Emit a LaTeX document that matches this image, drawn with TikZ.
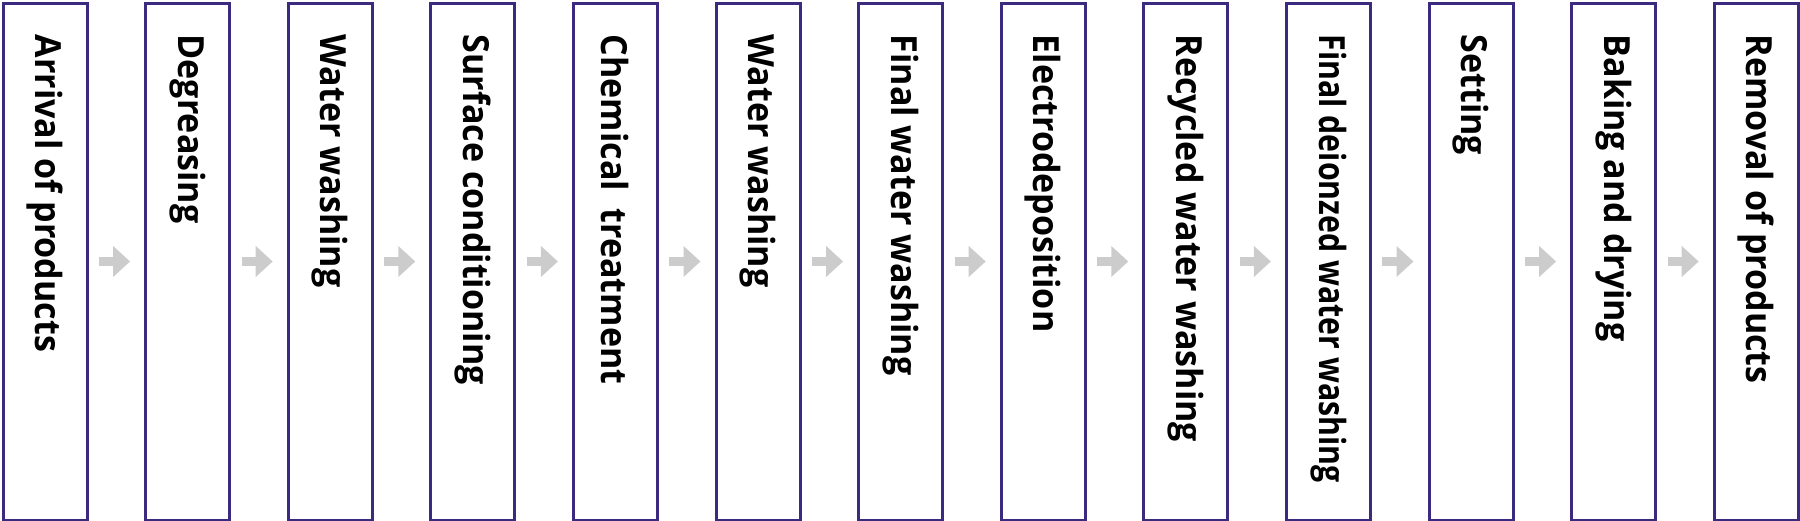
\documentclass[tikz,border=0pt]{standalone}
\usepackage{fontspec}
\setmainfont{Open Sans}
\usetikzlibrary{arrows.meta}
\definecolor{boxc}{RGB}{60,42,128}
\definecolor{arrc}{RGB}{204,204,204}
\begin{document}
\begin{tikzpicture}[x=1pt,y=-1pt,
  stepbox/.style={draw=boxc, line width=3pt, minimum width=84pt, minimum height=517pt, inner sep=0pt, anchor=north west},
  steplabel/.style={rotate=-90, anchor=west, inner sep=0pt, font=\bfseries\fontsize{36}{40}\selectfont},
  flow/.style={draw=arrc, line width=9pt, -{Triangle[length=17pt,width=30pt]}}]
\useasboundingbox (0,0) rectangle (1800,520);
\foreach \t [count=\i from 0] in {Arrival of products,Degreasing,Water washing,Surface conditioning,Chemical\ \ treatment,Water washing,Final water washing,Electrodeposition,Recycled water washing,Final deionzed water washing,Setting,Baking and drying,Removal of products} {
  \node[stepbox] (b\i) at ({1.5+\i*142.6},1.5) {};
  \node[steplabel] (t\i) at ([yshift=-33pt]b\i.north) {\ifnum\i=9 \resizebox{448pt}{\height}{\t}\else\scalebox{0.945}[1]{\t}\fi};
}
\foreach \i in {0,...,11} {
  \pgfmathtruncatemacro{\j}{\i+1}
  \draw[flow, shorten <=10.5pt, shorten >=14pt] (b\i.east) -- (b\j.west);
}
\end{tikzpicture}
\end{document}
